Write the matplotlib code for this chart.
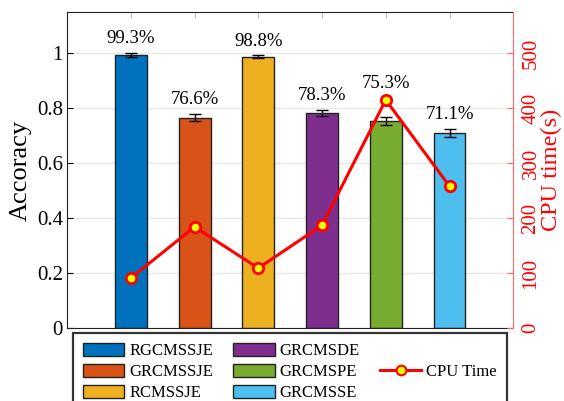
import matplotlib
matplotlib.use("Agg")
import matplotlib.pyplot as plt
from matplotlib.lines import Line2D
from matplotlib.patches import Patch

plt.rcParams["font.family"] = ["Liberation Serif", "DejaVu Serif"]

methods = ["RGCMSSJE", "GRCMSSJE", "RCMSSJE", "GRCMSDE", "GRCMSPE", "GRCMSSE"]
accuracy = [0.993, 0.766, 0.988, 0.783, 0.753, 0.711]
acc_err = [0.008, 0.014, 0.005, 0.012, 0.014, 0.014]
cpu_time = [91, 184, 109, 187, 415, 258]
colors = ["#0072BD", "#D95319", "#EDB120", "#7E2F8E", "#77AC30", "#4DBEEE"]

x = list(range(1, len(methods) + 1))
acc_max, cpu_max = 1.15, 575

fig = plt.figure(figsize=(5.64, 4.01), dpi=100)
ax = fig.add_axes([0.119, 0.182, 0.791, 0.788])

ax.bar(x, accuracy, width=0.5, color=colors, edgecolor="#222222",
       linewidth=1.0, zorder=2)
ax.errorbar(x, accuracy, yerr=acc_err, fmt="none", ecolor="black",
            elinewidth=1.0, capsize=4, capthick=1.0, zorder=3)
for xi, v, e, t in zip(x, accuracy, acc_err, cpu_time):
    y_txt = v + e + 0.02
    # push the label above the CPU marker when the marker would cover it
    t_acc = t / cpu_max * acc_max
    if y_txt - 0.03 < t_acc < y_txt + 0.08:
        y_txt = t_acc + 0.03
    ax.text(xi, y_txt, f"{v * 100:.1f}%", ha="center", va="bottom",
            fontsize=13.5)

ax.set_xlim(0, 7)
ax.set_ylim(0, acc_max)
ax.set_yticks([0, 0.2, 0.4, 0.6, 0.8, 1.0])
ax.set_yticklabels(["0", "0.2", "0.4", "0.6", "0.8", "1"])
ax.set_xticks(x)
ax.set_xticklabels([])
ax.tick_params(axis="both", direction="in", labelsize=15, length=4,
               top=True, bottom=True, right=False, pad=3)
ax.tick_params(axis="x", length=4, color="#bbbbbb")
ax.grid(True, axis="y", color="#e6e6e6", linewidth=1.0, zorder=0)
ax.set_axisbelow(True)
ax.set_ylabel("Accoracy", fontsize=19, labelpad=4)
for side in ["left", "top", "bottom"]:
    ax.spines[side].set_color("#222222")
ax.spines["right"].set_visible(False)

ax2 = ax.twinx()
ax2.plot(x, cpu_time, color="red", linewidth=2.2, marker="o", markersize=7.5,
         markerfacecolor="yellow", markeredgecolor="red", markeredgewidth=2,
         zorder=4)
ax2.set_ylim(0, cpu_max)
ax2.set_yticks([0, 100, 200, 300, 400, 500])
ax2.tick_params(axis="y", direction="in", colors="red", labelsize=15,
                labelrotation=90, length=4, pad=6)
for lbl in ax2.get_yticklabels():
    lbl.set_va("center")
ax2.tick_params(axis="y", color="#ff6666")
ax2.set_ylabel("CPU time(s)", color="red", fontsize=17.5, va="center")
ax2.yaxis.set_label_coords(1.085, 0.5)
ax2.spines["right"].set_color("#ff6666")
for side in ["left", "top", "bottom"]:
    ax2.spines[side].set_visible(False)

# three legend columns; the CPU line sits in the middle row of the last one
handles = [Patch(facecolor=c, edgecolor="#222222", linewidth=1.0) for c in colors]
labels = list(methods)
blank = Line2D([], [], linestyle="none")
cpu_handle = Line2D([], [], color="red", linewidth=2.2, marker="o",
                    markersize=7, markerfacecolor="yellow",
                    markeredgecolor="red", markeredgewidth=1.5)
handles += [blank, cpu_handle, blank]
labels += ["", "CPU Time", ""]

leg = fig.legend(handles, labels, ncol=3, loc="upper left",
                 bbox_to_anchor=(0.129, 0.170, 0.770, 0.0), mode="expand",
                 borderaxespad=0, fontsize=12, frameon=True, fancybox=False,
                 framealpha=1, edgecolor="#333333", handlelength=2.5,
                 handleheight=0.8, labelspacing=0.3, handletextpad=0.3,
                 borderpad=0.6, columnspacing=1.0)
leg.get_frame().set_linewidth(1.6)

fig.savefig("out.png", dpi=100)
